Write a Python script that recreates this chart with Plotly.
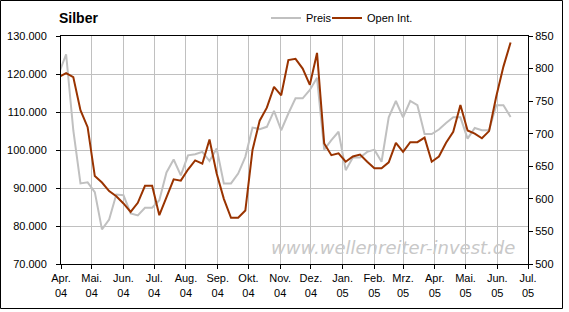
import plotly.graph_objects as go
import pandas as pd

# Weekly dates (Tuesdays) from 2004-03-30 to 2005-06-14
dates = pd.date_range("2004-03-30", periods=64, freq="7D")

preis = [120200, 125200, 105200, 91200, 91500, 88900, 79100, 81700, 88300, 88100,
         83300, 82800, 84800, 84800, 86800, 94100, 97500, 93300, 98600, 98900,
         99500, 97100, 100400, 91200, 91200, 93800, 98200, 105900, 105500, 106100,
         110300, 105200, 109600, 113600, 113600, 115800, 119000, 100100, 102600, 104800,
         94700, 98000, 98000, 99500, 100100, 96900, 108600, 112900, 108600, 112900,
         111800, 104200, 104200, 105400, 107100, 108600, 108600, 103000, 105800, 105200,
         105200, 111800, 111800, 108700]

open_int = [787, 793, 787, 736, 710, 635, 625, 612, 604, 593,
            580, 594, 620, 620, 575, 603, 630, 628, 645, 659,
            654, 691, 639, 600, 571, 571, 582, 675, 720, 740,
            772, 759, 813, 815, 800, 775, 824, 685, 667, 670,
            657, 665, 668, 657, 647, 647, 656, 686, 672, 687,
            687, 694, 657, 665, 686, 703, 744, 705, 700, 693,
            704, 757, 803, 840]

month_starts = pd.date_range("2004-04-01", "2005-07-01", freq="MS")
month_labels = ["Apr.<br>04", "Mai.<br>04", "Jun.<br>04", "Jul.<br>04", "Aug.<br>04",
                "Sep.<br>04", "Okt.<br>04", "Nov.<br>04", "Dez.<br>04", "Jan.<br>05",
                "Feb.<br>05", "Mrz.<br>05", "Apr.<br>05", "Mai.<br>05", "Jun.<br>05",
                "Jul.<br>05"]

W, H = 569, 312
L, R, T, B = 61, 41, 36, 48
pw, ph = W - L - R, H - T - B

def px(x):
    return (x - L) / pw

def py(y):
    return (H - B - y) / ph

font = dict(family="Liberation Sans, Arial, sans-serif", size=11, color="black")
legend_common = dict(orientation="h", xanchor="left", yanchor="middle",
                     bgcolor="rgba(0,0,0,0)", borderwidth=0, font=font,
                     itemwidth=30, tracegroupgap=0)

fig = go.Figure()
fig.add_trace(go.Scatter(x=dates, y=preis, name="Preis", mode="lines",
                         line=dict(color="#C0C0C0", width=2), yaxis="y",
                         legend="legend"))
fig.add_trace(go.Scatter(x=dates, y=open_int, name="Open Int.", mode="lines",
                         line=dict(color="#993300", width=2), yaxis="y2",
                         legend="legend2"))

fig.update_layout(
    width=W, height=H,
    margin=dict(l=L, r=R, t=T, b=B, pad=0, autoexpand=False),
    paper_bgcolor="white", plot_bgcolor="white",
    separators=",.",
    font=font,
    showlegend=True,
    legend=dict(x=px(266), y=py(18), **legend_common),
    legend2=dict(x=px(327), y=py(18), **legend_common),
    xaxis=dict(type="date", range=["2004-04-01", "2005-07-01"], automargin=False,
               tickmode="array", tickvals=month_starts, ticktext=month_labels,
               showgrid=True, gridcolor="#C0C0C0", gridwidth=1,
               showline=True, linecolor="black", linewidth=1, mirror=True,
               ticks="outside", ticklen=4, tickcolor="black", tickfont=font,
               zeroline=False, fixedrange=True),
    yaxis=dict(range=[70000, 130000], dtick=10000, tick0=70000, tickformat=",.0f",
               automargin=False,
               showgrid=True, gridcolor="#C0C0C0", gridwidth=1,
               showline=True, linecolor="black", linewidth=1,
               ticks="outside", ticklen=4, tickcolor="black", tickfont=font,
               ticklabelstandoff=7, zeroline=False),
    yaxis2=dict(range=[500, 850], dtick=50, tick0=500, overlaying="y", side="right",
                automargin=False,
                showgrid=False, showline=True, linecolor="black", linewidth=1,
                ticks="outside", ticklen=4, tickcolor="black", tickfont=font,
                zeroline=False),
    annotations=[
        dict(text="<b>Silber</b>", x=px(57), y=py(18), xref="paper", yref="paper",
             xanchor="left", yanchor="middle", showarrow=False,
             font=dict(family="Liberation Sans, Arial, sans-serif", size=14, color="black")),
        dict(text="<i>www.wellenreiter-invest.de</i>", x=px(517), y=py(247),
             xref="paper", yref="paper", xanchor="right", yanchor="middle",
             showarrow=False,
             font=dict(family="DejaVu Sans, Verdana, sans-serif", size=18, color="#C8C8C8")),
    ],
    shapes=[
        dict(type="rect", xref="paper", yref="paper",
             x0=px(0.5), x1=px(562.5), y0=py(308.5), y1=py(0.5),
             line=dict(color="black", width=1), fillcolor="rgba(0,0,0,0)", layer="above"),
    ],
)

fig.write_html("out.html")
